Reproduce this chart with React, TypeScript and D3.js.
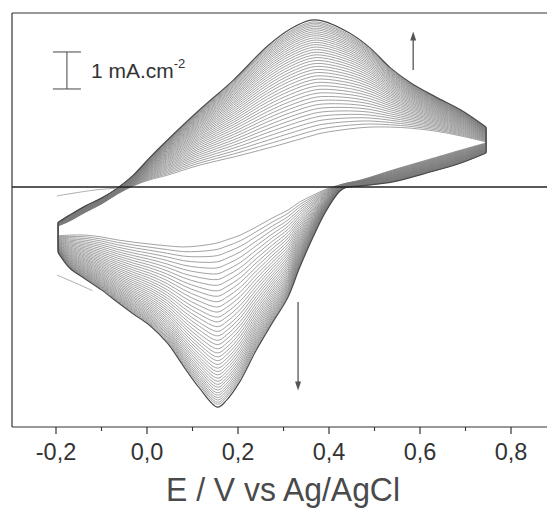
import React from 'react';
import * as d3 from 'd3';

// Potentials (V vs Ag/AgCl) and current densities (mA.cm^-2)
const anodicPotential = [-0.195, -0.17, -0.135, -0.1, -0.065, -0.03, 0.005, 0.045, 0.115, 0.19, 0.265, 0.315, 0.36, 0.385, 0.445, 0.49, 0.535, 0.58, 0.635, 0.69, 0.745];
const anodicFirst = [-1.05, -0.92, -0.68, -0.46, -0.19, 0.03, 0.19, 0.32, 0.59, 0.81, 1.05, 1.22, 1.38, 1.46, 1.57, 1.62, 1.62, 1.59, 1.51, 1.38, 1.22];
const anodicLast = [-0.95, -0.76, -0.51, -0.3, -0.03, 0.32, 0.78, 1.27, 2.08, 2.89, 3.81, 4.27, 4.51, 4.49, 4.16, 3.76, 3.22, 2.81, 2.43, 2.08, 1.62];

const cathodicPotential = [0.745, 0.69, 0.615, 0.54, 0.47, 0.43, 0.395, 0.365, 0.335, 0.31, 0.275, 0.24, 0.205, 0.175, 0.155, 0.115, 0.08, 0.045, 0.005, -0.03, -0.065, -0.1, -0.135, -0.17, -0.195];
const cathodicFirst = [1.19, 1.0, 0.73, 0.46, 0.19, 0.08, -0.05, -0.22, -0.41, -0.62, -0.84, -1.08, -1.3, -1.43, -1.51, -1.59, -1.62, -1.59, -1.54, -1.49, -1.43, -1.35, -1.3, -1.3, -1.32];
const cathodicLast = [0.92, 0.65, 0.38, 0.14, 0.03, -0.05, -0.62, -1.35, -2.19, -2.97, -3.68, -4.41, -5.24, -5.76, -5.95, -5.43, -4.84, -4.22, -3.73, -3.43, -3.11, -2.78, -2.49, -2.19, -1.78];

// relative growth of each successive cycle between the first and the last scan
const cycleGrowth = [0, 0.039, 0.077, 0.115, 0.152, 0.188, 0.223, 0.258, 0.292, 0.325, 0.358, 0.39, 0.421, 0.452, 0.481, 0.51, 0.539, 0.566, 0.593, 0.619, 0.645, 0.67, 0.694, 0.717, 0.74, 0.762, 0.783, 0.803, 0.823, 0.842, 0.861, 0.878, 0.895, 0.912, 0.927, 0.942, 0.956, 0.97, 0.982, 1.0];

const initialTraceE = [-0.198, -0.114, -0.066];
const initialTraceI = [-0.24, -0.08, -0.03];
const strayTraceE = [-0.198, -0.147, -0.12];
const strayTraceI = [-2.38, -2.65, -2.8];

const xTicks = [-0.2, 0, 0.2, 0.4, 0.6, 0.8];
const xTickLabels = ['-0,2', '0,0', '0,2', '0,4', '0,6', '0,8'];
const xMinorTicks = [-0.1, 0.1, 0.3, 0.5, 0.7];

const scaleBarE = -0.176;
const scaleBarTop = 3.65;
const scaleBarValue = 1;
const upArrow = { E: 0.585, from: 3.16, to: 4.2 };
const downArrow = { E: 0.332, from: -3.11, to: -5.5 };

const W = 547, H = 511;
const FONT = 'Liberation Sans, Arial, Helvetica, sans-serif';

export default function App() {
  const x = d3.scaleLinear().domain([-0.2967, 0.8791]).range([12, 547]);
  const y = d3.scaleLinear().domain([-6.486, 4.703]).range([427, 13]);
  const plotTop = y(4.703), plotBottom = y(-6.486), plotLeft = x(-0.2967);

  const line = d3.line<[number, number]>().x(d => x(d[0])).y(d => y(d[1])).curve(d3.curveCatmullRom.alpha(0.5));
  const straight = d3.line<[number, number]>().x(d => x(d[0])).y(d => y(d[1]));

  const cycles = cycleGrowth.map((w, k) => {
    const an: [number, number][] = anodicPotential.map((e, j) => [e, anodicFirst[j] + w * (anodicLast[j] - anodicFirst[j])]);
    const ca: [number, number][] = cathodicPotential.map((e, j) => [e, cathodicFirst[j] + w * (cathodicLast[j] - cathodicFirst[j])]);
    return { k, an, ca };
  });

  const arrowHead = (cx: number, tipY: number, dir: number) => {
    const h = 9, hw = 3;
    return `M${cx},${tipY} L${cx - hw},${tipY - dir * h} L${cx + hw},${tipY - dir * h} Z`;
  };

  const sbX = x(scaleBarE);
  const sbY1 = y(scaleBarTop);
  const sbY2 = y(scaleBarTop - scaleBarValue);

  return (
    <svg width={W} height={H} style={{ position: 'fixed', left: 0, top: 0, background: '#fff' }} fontFamily={FONT}>
      <rect x={0} y={0} width={W} height={H} fill="#fff" />
      {/* cycles */}
      <g fill="none">
        {cycles.map(c => (
          <g key={c.k} stroke={c.k === cycles.length - 1 ? '#4a4a4a' : '#7a7a7a'} strokeWidth={c.k === cycles.length - 1 ? 1.2 : 0.7}>
            <path d={line(c.an) || ''} />
            <path d={line(c.ca) || ''} />
            <path d={straight([c.an[c.an.length - 1], c.ca[0]]) || ''} />
            <path d={straight([c.ca[c.ca.length - 1], c.an[0]]) || ''} />
          </g>
        ))}
        <path d={line(initialTraceE.map((e, i) => [e, initialTraceI[i]] as [number, number])) || ''} stroke="#999" strokeWidth={0.8} />
        <path d={line(strayTraceE.map((e, i) => [e, strayTraceI[i]] as [number, number])) || ''} stroke="#999" strokeWidth={0.8} />
      </g>

      {/* zero line */}
      <line x1={plotLeft} x2={W} y1={y(0)} y2={y(0)} stroke="#222" strokeWidth={1.5} />

      {/* frame */}
      <line x1={plotLeft} x2={W} y1={plotTop} y2={plotTop} stroke="#333" strokeWidth={1.2} />
      <line x1={plotLeft} x2={W} y1={plotBottom} y2={plotBottom} stroke="#333" strokeWidth={1.2} />
      <line x1={plotLeft} x2={plotLeft} y1={plotTop} y2={plotBottom} stroke="#333" strokeWidth={1.2} />

      {/* ticks */}
      {xTicks.map((t, i) => (
        <g key={'t' + i}>
          <line x1={x(t)} x2={x(t)} y1={plotBottom} y2={plotBottom + 7} stroke="#333" strokeWidth={1.2} />
          <text x={x(t)} y={plotBottom + 33} textAnchor="middle" fontSize={23.5} fill="#333">{xTickLabels[i]}</text>
        </g>
      ))}
      {xMinorTicks.map((t, i) => (
        <line key={'m' + i} x1={x(t)} x2={x(t)} y1={plotBottom} y2={plotBottom + 4} stroke="#333" strokeWidth={1.1} />
      ))}

      {/* axis title */}
      <text x={283} y={501} textAnchor="middle" fontSize={34} fill="#4a4a4a" textLength={234} lengthAdjust="spacingAndGlyphs">E / V vs Ag/AgCl</text>

      {/* scale bar */}
      <g stroke="#555" strokeWidth={1.1}>
        <line x1={sbX} x2={sbX} y1={sbY1} y2={sbY2} />
        <line x1={sbX - 14} x2={sbX + 14} y1={sbY1} y2={sbY1} />
        <line x1={sbX - 14} x2={sbX + 14} y1={sbY2} y2={sbY2} />
      </g>
      <text x={sbX + 24} y={sbY1 + 26} fontSize={21} fill="#333">1 mA.cm<tspan dy={-10} fontSize={13}>-2</tspan></text>

      {/* arrows */}
      <g stroke="#555" strokeWidth={1.3}>
        <line x1={x(upArrow.E)} x2={x(upArrow.E)} y1={y(upArrow.from)} y2={y(upArrow.to) + 6} />
        <line x1={x(downArrow.E)} x2={x(downArrow.E)} y1={y(downArrow.from)} y2={y(downArrow.to) - 6} />
      </g>
      <path d={arrowHead(x(upArrow.E), y(upArrow.to), -1)} fill="#555" />
      <path d={arrowHead(x(downArrow.E), y(downArrow.to), 1)} fill="#555" />
    </svg>
  );
}
